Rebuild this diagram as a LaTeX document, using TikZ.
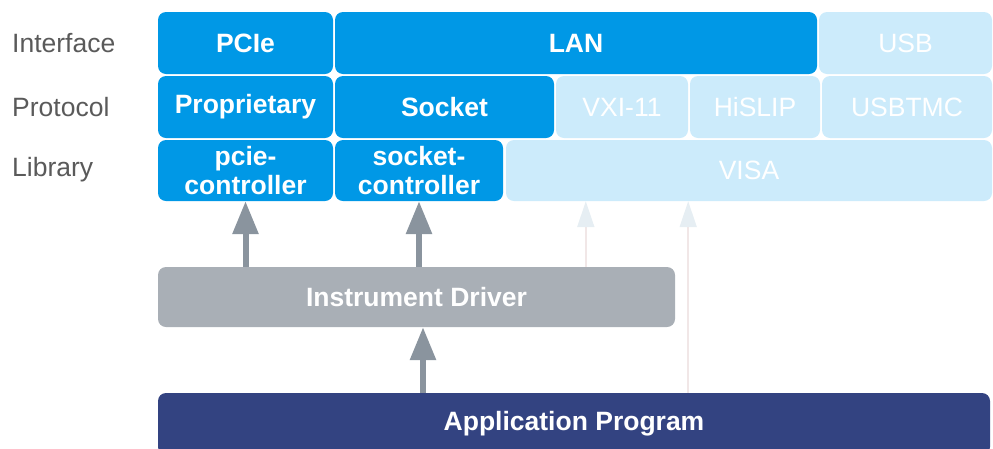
\documentclass[tikz,border=0pt]{standalone}
\usepackage{fontspec}
\setmainfont{Liberation Sans}
\usepackage{tikz}
\usetikzlibrary{arrows.meta, positioning, calc}
\definecolor{busblue}{HTML}{0098E6}
\definecolor{paleblue}{HTML}{CCEBFB}
\definecolor{drvgray}{HTML}{A9AFB6}
\definecolor{appnavy}{HTML}{334381}
\definecolor{arrgray}{HTML}{8A949E}
\definecolor{labgray}{HTML}{5A5A5A}
\definecolor{faintshaft}{HTML}{F1E7E7}
\definecolor{fainthead}{HTML}{E6EEF3}

\begin{document}
\begin{tikzpicture}[x=1pt, y=-1pt, font=\fontsize{26.5}{29}\selectfont,
  blk/.style={rounded corners=8pt, minimum height=62pt, inner sep=0pt, align=center, text=white,
    font=\fontsize{26.5}{29}\selectfont\bfseries},
  busbox/.style={blk, fill=busblue},
  fadebox/.style={blk, fill=paleblue, font=\fontsize{26.5}{29}\selectfont},
  rowlabel/.style={anchor=west, inner sep=0pt, text=labgray},
  darrow/.style={arrgray, line width=6pt, -{Triangle[length=33pt, width=25pt]}},
  farrow/.style={faintshaft, line width=2pt, -{Triangle[length=26pt, width=17pt, color=fainthead]}}]
  \useasboundingbox (0,0) rectangle (993,448);

  % Row labels
  \node[rowlabel] (linterface) at (12,43) {Interface};
  \node[rowlabel] (lprotocol) at (12,107) {Protocol};
  \node[rowlabel] (llibrary) at (12,170) {Library};

  % Interface
  \node[busbox, minimum width=175pt] (pcie) at (245.5,43) {PCIe};
  \node[busbox, minimum width=482pt] (lan) at (576,43) {LAN};
  \node[fadebox, minimum width=173pt] (usb) at (905.5,43) {USB};

  % Protocol
  \node[busbox, minimum width=175pt] (prop) at (245.5,107) {Proprietary};
  \node[busbox, minimum width=219pt] (sock) at (444.5,107) {Socket};
  \node[fadebox, minimum width=132pt] (vxi) at (622,107) {VXI-11};
  \node[fadebox, minimum width=130pt] (hislip) at (755,107) {HiSLIP};
  \node[fadebox, minimum width=170pt] (usbtmc) at (907,107) {USBTMC};

  % Library
  \node[busbox, minimum width=175pt, minimum height=61pt] (pcc) at (245.5,170.5) {pcie-\\controller};
  \node[busbox, minimum width=168pt, minimum height=61pt] (scc) at (419,170.5) {socket-\\controller};
  \node[fadebox, minimum width=486pt, minimum height=61pt] (visa) at (749,170.5) {VISA};

  % Driver and application
  \node[blk, fill=drvgray, minimum width=517pt, minimum height=60pt] (drv) at (416.5,297) {Instrument Driver};
  \node[blk, fill=appnavy, minimum width=832pt, minimum height=62pt] (app) at (574,424) {Application Program};

  % Arrows
  \draw[farrow] ([xshift=80pt]drv.north -| visa.west) -- ([xshift=80pt]visa.south west);
  \draw[farrow] (app.north -| vxi.east) -- (vxi.east |- visa.south);
  \draw[darrow] (drv.north -| pcc) -- (pcc.south);
  \draw[darrow] (drv.north -| scc) -- (scc.south);
  \draw[darrow] ([xshift=4pt]app.north -| scc) -- ([xshift=4pt]drv.south -| scc);
\end{tikzpicture}
\end{document}
